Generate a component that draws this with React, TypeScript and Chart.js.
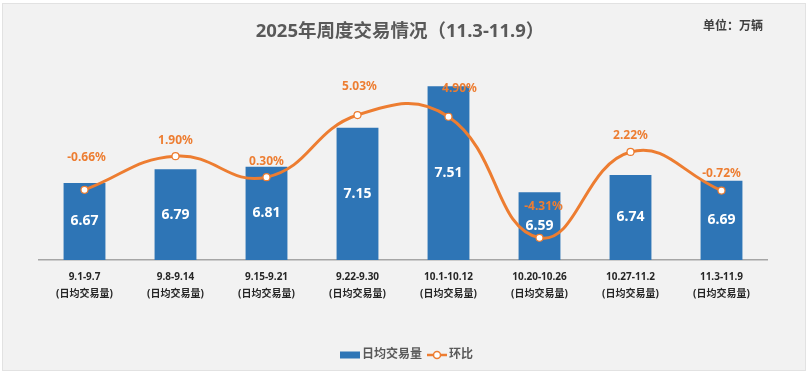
import React, { useEffect, useRef } from "react";
import { Chart, registerables } from "chart.js";

Chart.register(...registerables);

const periods = ["9.1-9.7", "9.8-9.14", "9.15-9.21", "9.22-9.30", "10.1-10.12", "10.20-10.26", "10.27-11.2", "11.3-11.9"];
const subLabel = "(日均交易量)";
const dailyVolume = [6.67, 6.79, 6.81, 7.15, 7.51, 6.59, 6.74, 6.69];
const momChange = [-0.66, 1.9, 0.3, 5.03, 4.9, -4.31, 2.22, -0.72];
const titleText = "2025年周度交易情况（11.3-11.9）";
const unitText = "单位：万辆";
const barName = "日均交易量";
const lineName = "环比";

const FONT = "'Noto Sans', 'Noto Sans CJK SC', sans-serif";
const BLUE = "#2E75B6";
const ORANGE = "#ED7D31";

// label offsets for line labels (style only)
const lineLabelDx = [2, 0, 0, 2, 11, 4, 0, 0];
const lineLabelDy = [-32, -16, -16, -28, -28, -31, -16, -17];

const decorPlugin = {
  id: "decor",
  afterDatasetsDraw(chart: any) {
    const ctx = chart.ctx;
    ctx.save();
    const bottom = chart.chartArea.bottom;
    // bar value labels
    const barMeta = chart.getDatasetMeta(0);
    ctx.font = `bold 14px ${FONT}`;
    ctx.fillStyle = "#ffffff";
    ctx.textAlign = "center";
    ctx.textBaseline = "middle";
    barMeta.data.forEach((el: any, i: number) => {
      const y = (el.y + bottom) / 2;
      ctx.fillText(dailyVolume[i].toFixed(2), el.x, y);
    });
    // line labels
    const lineMeta = chart.getDatasetMeta(1);
    ctx.font = `bold 12px ${FONT}`;
    ctx.fillStyle = ORANGE;
    lineMeta.data.forEach((el: any, i: number) => {
      ctx.fillText(momChange[i].toFixed(2) + "%", el.x + lineLabelDx[i], el.y + lineLabelDy[i]);
    });
    ctx.restore();
  },
  afterDraw(chart: any) {
    const ctx = chart.ctx;
    ctx.save();
    // title
    ctx.font = `bold 18.5px ${FONT}`;
    ctx.fillStyle = "#595959";
    ctx.textAlign = "center";
    ctx.textBaseline = "middle";
    ctx.fillText(titleText, 400, 32);
    // unit
    ctx.font = `bold 12px ${FONT}`;
    ctx.fillStyle = "#404040";
    ctx.textAlign = "left";
    ctx.fillText(unitText, 703, 27);
    // legend
    const ly = 355;
    ctx.fillStyle = BLUE;
    ctx.fillRect(340, ly - 3.5, 20, 7);
    ctx.font = `bold 12px ${FONT}`;
    ctx.fillStyle = "#595959";
    ctx.fillText(barName, 362, ly);
    ctx.strokeStyle = ORANGE;
    ctx.lineWidth = 2.5;
    ctx.beginPath();
    ctx.moveTo(427, ly);
    ctx.lineTo(447, ly);
    ctx.stroke();
    ctx.beginPath();
    ctx.arc(437, ly, 3.5, 0, Math.PI * 2);
    ctx.fillStyle = "#ffffff";
    ctx.fill();
    ctx.lineWidth = 1.5;
    ctx.stroke();
    ctx.fillStyle = "#595959";
    ctx.fillText(lineName, 449, ly);
    ctx.restore();
  },
};

export default function App() {
  const ref = useRef<HTMLCanvasElement>(null);
  useEffect(() => {
    document.body.style.margin = "0";
    if (!ref.current) return;
    const chart = new Chart(ref.current, {
      type: "bar",
      data: {
        labels: periods.map((p) => [p, subLabel]),
        datasets: [
          {
            type: "bar",
            label: barName,
            data: dailyVolume,
            backgroundColor: BLUE,
            yAxisID: "y",
            categoryPercentage: 1,
            barPercentage: 0.46,
            order: 1,
          } as any,
          {
            type: "line",
            label: lineName,
            data: momChange,
            borderColor: ORANGE,
            borderWidth: 3,
            tension: 0.45,
            pointRadius: 3.5,
            pointBorderWidth: 1.2,
            pointBackgroundColor: "#ffffff",
            pointBorderColor: ORANGE,
            yAxisID: "y2",
            order: 0,
          } as any,
        ],
      },
      options: {
        responsive: false,
        animation: false,
        layout: { padding: { left: 39, right: 41, top: 76, bottom: 52 } },
        plugins: {
          legend: { display: false },
          title: { display: false },
          tooltip: { enabled: false },
        },
        scales: {
          x: {
            grid: { display: false },
            border: { display: true, color: "#a6a6a6", width: 1.5 },
            ticks: {
              color: "#262626",
              font: { family: FONT, size: 10, weight: "bold", lineHeight: 1.65 },
              padding: 1,
              maxRotation: 0,
              autoSkip: false,
            },
            afterFit: (scale: any) => {
              scale.height = 60;
            },
          },
          y: { display: false, min: 6, max: 7.6 },
          y2: { display: false, min: -6, max: 8, position: "right" },
        },
      },
      plugins: [decorPlugin],
    });
    return () => chart.destroy();
  }, []);

  return (
    <div style={{ position: "relative", width: 808, height: 372, background: "#ffffff" }}>
      <div
        style={{
          position: "absolute",
          left: 2,
          top: 3,
          width: 802,
          height: 366,
          background: "#f2f2f2",
          border: "1px solid #e2e2e2",
        }}
      />
      <canvas ref={ref} width={808} height={372} style={{ position: "absolute", left: 0, top: 0 }} />
    </div>
  );
}
